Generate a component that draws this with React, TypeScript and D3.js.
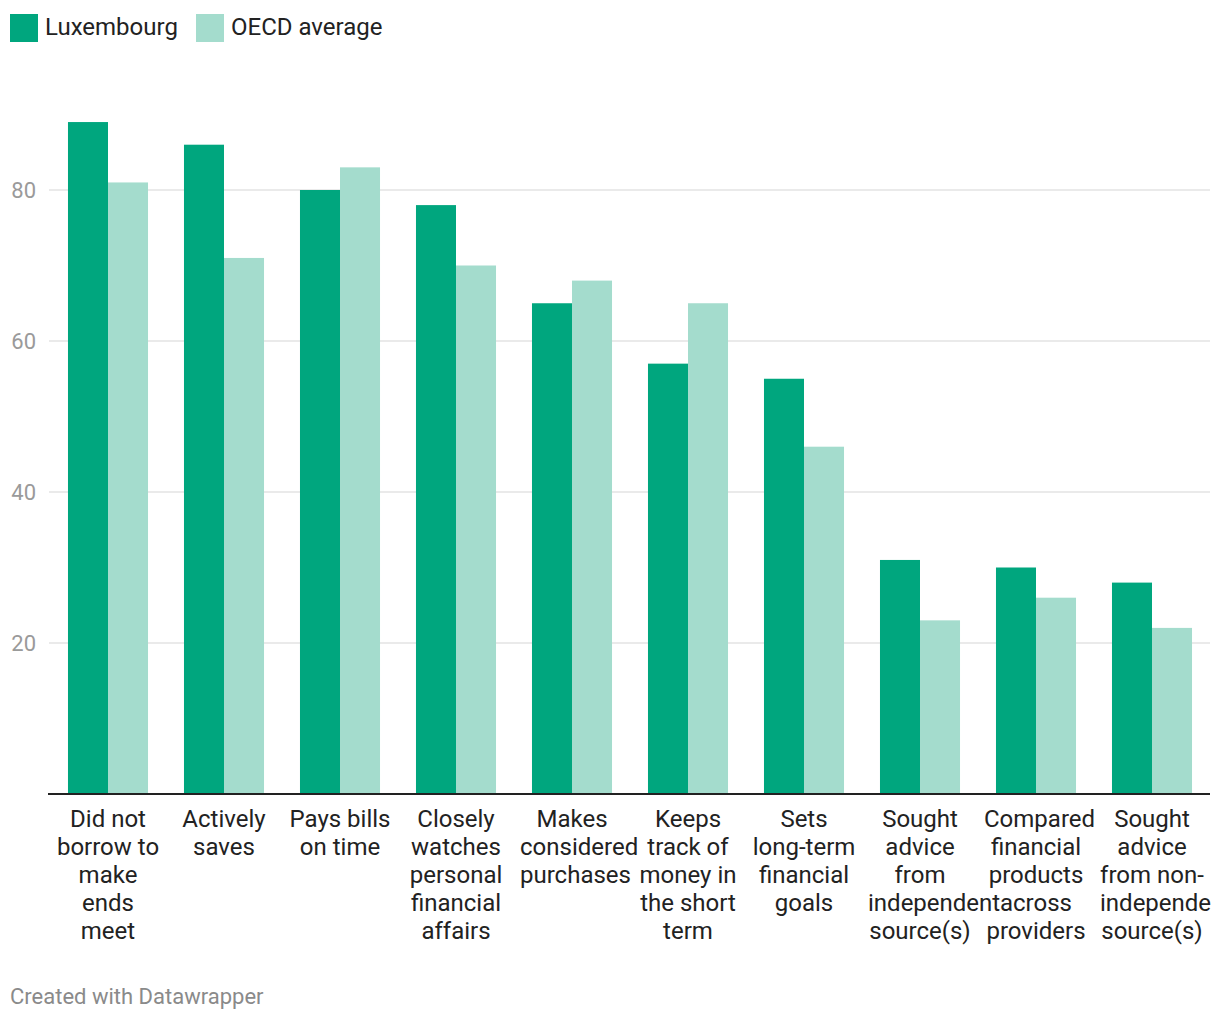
import React from "react";
import * as d3 from "d3";

const categories: string[][] = [
  ["Did not", "borrow to", "make", "ends", "meet"],
  ["Actively", "saves"],
  ["Pays bills", "on time"],
  ["Closely", "watches", "personal", "financial", "affairs"],
  ["Makes", "considered", "purchases"],
  ["Keeps", "track of", "money in", "the short", "term"],
  ["Sets", "long-term", "financial", "goals"],
  ["Sought", "advice", "from", "independent", "source(s)"],
  ["Compared", "financial", "products", "across", "providers"],
  ["Sought", "advice", "from non-", "independent", "source(s)"],
];
const luxembourg = [89, 86, 80, 78, 65, 57, 55, 31, 30, 28];
const oecd = [81, 71, 83, 70, 68, 65, 46, 23, 26, 22];
const yTicks = [20, 40, 60, 80];
const seriesNames = ["Luxembourg", "OECD average"];
const colors = ["#00a67e", "#a4dccd"];

const font = "Roboto, 'Noto Sans', sans-serif";
let ctx: CanvasRenderingContext2D | null = null;
function measure(t: string, size: number): number {
  if (!ctx) {
    const c = document.createElement("canvas");
    ctx = c.getContext("2d");
  }
  if (!ctx) return t.length * size * 0.5;
  ctx.font = `${size}px Roboto`;
  return ctx.measureText(t).width;
}

export default function App() {
  const W = 1220, H = 1020;
  const axisLeft = 48, left = 50, right = 1210, bottom = 794;
  const x = d3.scaleBand<number>().domain(d3.range(categories.length)).range([left, right]).paddingInner(0.31).paddingOuter(0.155);
  const x1 = d3.scaleBand<number>().domain([0, 1]).range([0, x.bandwidth()]);
  const y = d3.scaleLinear().domain([0, 80]).range([bottom, 190]);
  const series = [luxembourg, oecd];
  const boxW = 104;
  return (
    <svg width={W} height={H} style={{ position: "absolute", left: 0, top: 0, background: "#fff" }} fontFamily={font}>
      <defs>
        <clipPath id="clip"><rect x={0} y={0} width={1211} height={H} /></clipPath>
      </defs>
      <g>
        <rect x={10} y={14} width={28} height={28} fill={colors[0]} />
        <text x={45} y={35} fontSize={24} fill="#222">{seriesNames[0]}</text>
        <rect x={196} y={14} width={28} height={28} fill={colors[1]} />
        <text x={231} y={35} fontSize={24} fill="#222">{seriesNames[1]}</text>
      </g>
      {yTicks.map((t) => (
        <g key={t}>
          <line x1={axisLeft + 1} x2={right} y1={y(t)} y2={y(t)} stroke="#e3e3e3" strokeWidth={1.5} />
          <text x={36} y={y(t) + 8} fontSize={22} fill="#9a9a9a" textAnchor="end">{t}</text>
        </g>
      ))}
      {series.map((s, si) =>
        s.map((v, i) => (
          <rect key={si + "-" + i} x={(x(i) as number) + (x1(si) as number)} y={y(v)} width={x1.bandwidth()} height={bottom - y(v)} fill={colors[si]} />
        ))
      )}
      <line x1={axisLeft} x2={right} y1={bottom} y2={bottom} stroke="#222" strokeWidth={2} />
      <g clipPath="url(#clip)">
        {categories.map((lines, i) => {
          const cx = (x(i) as number) + x.bandwidth() / 2;
          return lines.map((l, j) => {
            const over = measure(l, 24) > boxW;
            return (
              <text key={i + "-" + j} x={over ? cx - boxW / 2 : cx} y={827 + j * 28} fontSize={24} fill="#222" textAnchor={over ? "start" : "middle"}>{l}</text>
            );
          });
        })}
      </g>
      <text x={10} y={1004} fontSize={22} fill="#8a8a8a">Created with Datawrapper</text>
    </svg>
  );
}
